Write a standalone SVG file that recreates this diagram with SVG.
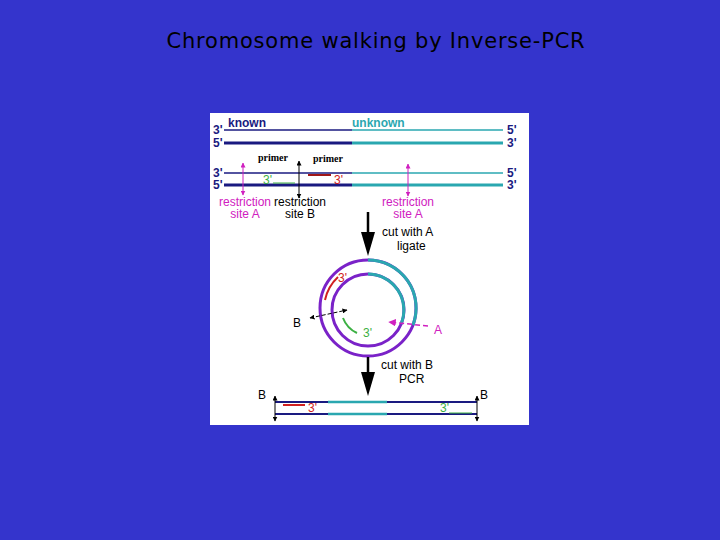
<svg xmlns="http://www.w3.org/2000/svg" width="720" height="540" viewBox="0 0 720 540">
<defs>
<marker id="ah" viewBox="0 0 10 10" refX="9" refY="5" markerWidth="5" markerHeight="5" orient="auto-start-reverse"><path d="M0,0L10,5L0,10z" fill="context-stroke"/></marker>
</defs>
<style>
.t{font-family:"Liberation Sans",Arial,sans-serif;font-size:12px}
.n{fill:#1a1a80}.tl{fill:#2aa7b0}.m{fill:#d020c0}.k{fill:#000}
.dn{stroke:#1a1a80;fill:none}.dt{stroke:#2aa7b0;fill:none}
</style>
<rect width="720" height="540" fill="#3434cc"/>
<text x="376" y="48" text-anchor="middle" font-family="DejaVu Sans,sans-serif" font-size="21" letter-spacing="0.8" fill="#000">Chromosome walking by Inverse-PCR</text>
<rect x="210" y="113" width="319" height="312" fill="#fff"/>
<g id="strands">
<line x1="224" y1="130" x2="352" y2="130" class="dn" stroke-width="1.5"/>
<line x1="352" y1="130" x2="503" y2="130" class="dt" stroke-width="1.5"/>
<line x1="224" y1="143" x2="352" y2="143" class="dn" stroke-width="3"/>
<line x1="352" y1="143" x2="503" y2="143" class="dt" stroke-width="3"/>
<line x1="224" y1="173" x2="352" y2="173" class="dn" stroke-width="1.5"/>
<line x1="352" y1="173" x2="503" y2="173" class="dt" stroke-width="1.5"/>
<line x1="224" y1="185" x2="352" y2="185" class="dn" stroke-width="3"/>
<line x1="352" y1="185" x2="503" y2="185" class="dt" stroke-width="3"/>
<text x="228" y="127" class="t n" font-size="13" font-weight="bold">known</text>
<text x="352" y="127" class="t tl" font-size="13" font-weight="bold">unknown</text>
<g class="t n" font-weight="bold" font-size="11">
<text x="213" y="134">3'</text><text x="213" y="147">5'</text><text x="213" y="177">3'</text><text x="213" y="189">5'</text>
<text x="507" y="134">5'</text><text x="507" y="147">3'</text><text x="507" y="177">5'</text><text x="507" y="189">3'</text>
</g>
<text x="258" y="161" font-family="Liberation Serif,serif" font-size="10" font-weight="bold">primer</text>
<text x="313" y="162" font-family="Liberation Serif,serif" font-size="10" font-weight="bold">primer</text>
<text x="263" y="184" class="t" fill="#3cb043" font-size="11">3'</text>
<line x1="273" y1="183" x2="295" y2="183" stroke="#3cb043" stroke-width="1"/>
<line x1="308" y1="175" x2="331" y2="175" stroke="#a01818" stroke-width="2"/>
<text x="334" y="184" class="t" fill="#d02020" font-size="11">3'</text>
</g>
<g id="sites">
<line x1="243" y1="163" x2="243" y2="195" stroke="#d020c0" marker-start="url(#ah)" marker-end="url(#ah)"/>
<line x1="299" y1="161" x2="299" y2="198" stroke="#000" marker-start="url(#ah)" marker-end="url(#ah)"/>
<line x1="408" y1="164" x2="408" y2="196" stroke="#d020c0" marker-start="url(#ah)" marker-end="url(#ah)"/>
<g class="t" font-size="9" text-anchor="middle">
<text x="245" y="206" class="m">restriction</text><text x="245" y="218" class="m">site A</text>
<text x="300" y="206" class="k">restriction</text><text x="300" y="218" class="k">site B</text>
<text x="408" y="206" class="m">restriction</text><text x="408" y="218" class="m">site A</text>
</g>
</g>
<g id="step1">
<line x1="368" y1="212" x2="368" y2="232" stroke="#000" stroke-width="2.5"/>
<path d="M361,232L375,232L368,256z" fill="#000"/>
<text x="382" y="236" class="t" font-size="14">cut with A</text>
<text x="397" y="250" class="t" font-size="14">ligate</text>
</g>
<g id="circle" fill="none" stroke-width="3">
<circle cx="368" cy="308" r="48" stroke="#7a22c8"/>
<path d="M368,260A48,48 0 0,1 413,325" stroke="#2aa7b0"/>
<circle cx="368" cy="310" r="36" stroke="#7a22c8"/>
<path d="M368,274A36,36 0 0,1 401,324" stroke="#2aa7b0"/>
<path d="M325,300A44,44 0 0,1 338,277" stroke="#d02020" stroke-width="2"/>
<path d="M343,318A27,27 0 0,0 357,333" stroke="#3cb043" stroke-width="2"/>
<line x1="310" y1="318" x2="347" y2="310" stroke="#000" stroke-width="1" stroke-dasharray="4,2" marker-start="url(#ah)" marker-end="url(#ah)"/>
<line x1="428" y1="326" x2="389" y2="322" stroke="#d020c0" stroke-width="1.5" stroke-dasharray="5,3" marker-end="url(#ah)"/>
<text x="338" y="282" class="t" fill="#d02020" stroke="none" font-size="11">3'</text>
<text x="363" y="337" class="t" fill="#3cb043" stroke="none" font-size="11">3'</text>
<text x="293" y="327" class="t" fill="#000" stroke="none" font-size="14">B</text>
<text x="434" y="334" class="t" fill="#d020c0" stroke="none" font-size="14">A</text>
</g>
<g id="step2">
<line x1="368" y1="357" x2="368" y2="372" stroke="#000" stroke-width="2.5"/>
<path d="M361,372L375,372L368,396z" fill="#000"/>
<text x="381" y="369" class="t" font-size="14">cut with B</text>
<text x="399" y="383" class="t" font-size="14">PCR</text>
</g>
<g id="product">
<line x1="275" y1="402" x2="328" y2="402" class="dn" stroke-width="2"/>
<line x1="328" y1="402" x2="387" y2="402" class="dt" stroke-width="2.5"/>
<line x1="387" y1="402" x2="477" y2="402" class="dn" stroke-width="2"/>
<line x1="275" y1="414" x2="328" y2="414" class="dn" stroke-width="2"/>
<line x1="328" y1="414" x2="387" y2="414" class="dt" stroke-width="2.5"/>
<line x1="387" y1="414" x2="477" y2="414" class="dn" stroke-width="2"/>
<line x1="275" y1="396" x2="275" y2="421" stroke="#000" marker-start="url(#ah)" marker-end="url(#ah)"/>
<line x1="477" y1="396" x2="477" y2="421" stroke="#000" marker-start="url(#ah)" marker-end="url(#ah)"/>
<text x="258" y="399" class="t" font-size="14">B</text>
<text x="480" y="399" class="t" font-size="14">B</text>
<line x1="283" y1="405" x2="305" y2="405" stroke="#d02020" stroke-width="2"/>
<text x="308" y="412" class="t" fill="#d02020" font-size="11">3'</text>
<text x="440" y="412" class="t" fill="#3cb043" font-size="11">3'</text>
<line x1="449" y1="413" x2="472" y2="413" stroke="#3cb043" stroke-width="1"/>
</g>
</svg>
